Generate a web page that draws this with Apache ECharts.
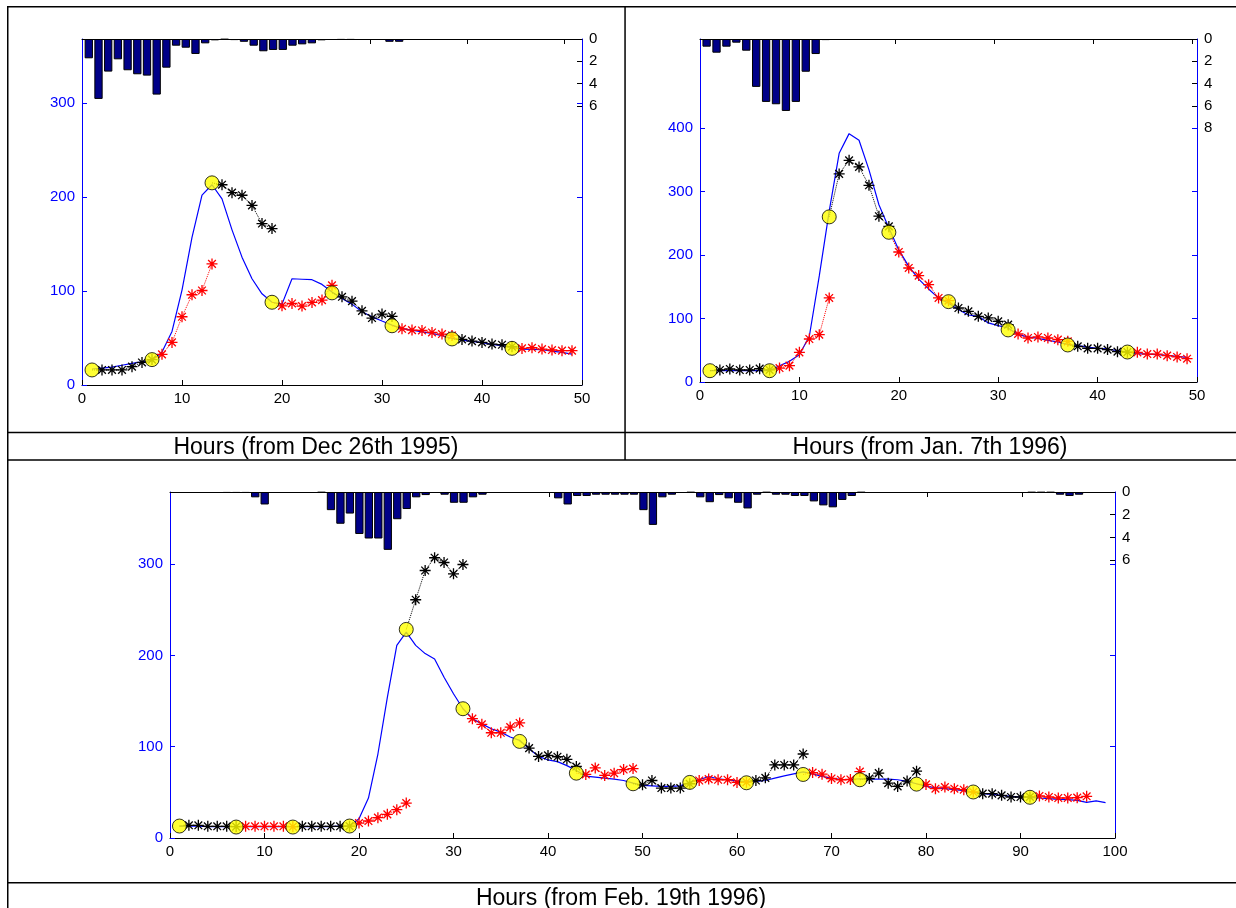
<!DOCTYPE html>
<html>
<head>
<meta charset="utf-8">
<script src="https://cdn.jsdelivr.net/npm/echarts@6/dist/echarts.min.js"></script>
<style>
  html, body { margin: 0; padding: 0; background: #fff; }
  #chart { width: 1236px; height: 908px; }
</style>
</head>
<body>
<div id="chart"></div>
<script>
// observations every 6 hours, each followed by a 6 hour forecast
var dec95ObsHours = [1, 7, 13, 19, 25, 31, 37, 43];
var dec95Obs = [16, 27, 215, 88, 98, 63, 49, 39];
var dec95Model = [17, 18, 19, 21, 23, 24.5, 26, 35, 57, 101, 157, 202, 213, 198, 165, 136, 113, 97, 88, 86,
  113, 112.5, 112, 107, 99, 92, 86, 78, 72.5, 68, 63.7, 60, 58.4, 56.6, 54.9, 52.4, 49.6, 47.8, 46.4, 45,
  43.2, 41.8, 40, 38.2, 37.9, 37.5, 36, 34.7, 32.9];
var dec95Fcst = [
  [16, 16, 16, 19.5, 24, 27],
  [32.6, 45.3, 72.6, 96, 100.5, 128.8],
  [213, 204.6, 201.8, 191, 171.7, 166.4],
  [84.2, 86.7, 83.9, 87.8, 90.3, 106],
  [93.8, 89.2, 78.9, 71.2, 75.4, 72.9],
  [59.8, 58.4, 58, 55.9, 54.2, 52.7],
  [48.5, 46.7, 45.3, 43.5, 42.8, 40.7],
  [38.9, 39.6, 38.2, 37.2, 36.5, 36.5]
];
var dec95Rain = [1.73, 5.37, 2.92, 1.82, 2.8, 3.16, 3.28, 4.98, 2.57, 0.6, 0.78, 1.34, 0.39, 0.12, 0.05, 0.1,
  0.25, 0.6, 1.1, 0.98, 0.98, 0.6, 0.48, 0.39, 0.12, 0, 0.08, 0.08, 0, 0, 0, 0.25, 0.25];

var jan96ObsHours = [1, 7, 13, 19, 25, 31, 37, 43];
var jan96Obs = [17.8, 17.8, 260, 235.7, 126.5, 82, 58.3, 47.2];
var jan96Model = [17.8, 18, 18, 18, 18, 18, 18, 25.7, 32.5, 43, 72, 167, 269, 360, 391, 380.6, 334, 279, 242.5, 208,
  182, 162, 146.5, 132, 124, 114, 105.5, 103.4, 93, 88.7, 85, 74.5, 71, 68.8, 65.6, 63, 59.3, 57.2, 55, 53,
  52, 49.3, 47.2, 44.6, 44, 43, 42, 40.4, 38.8];
var jan96Fcst = [
  [18.9, 20.5, 18.9, 18.9, 21, 19],
  [22, 25.7, 46.7, 67.7, 74.5, 132.3],
  [327.6, 349, 338.6, 309.7, 261, 245],
  [204.7, 179.5, 167.5, 153.3, 132.3, 128],
  [116.5, 111.3, 103.4, 100.8, 95.5, 90.3],
  [75.6, 69.3, 70.9, 69.3, 66.7, 64],
  [56.2, 53, 53, 51, 47.8, 47],
  [46.7, 44, 44, 41.5, 39.4, 36.7]
];
var jan96Rain = [0.69, 1.23, 0.69, 0.33, 1.05, 4.3, 5.65, 5.86, 6.46, 5.65, 2.94, 1.35, 0.1];

var feb96ObsHours = [1, 7, 13, 19, 25, 31, 37, 43, 49, 55, 61, 67, 73, 79, 85, 91];
var feb96Obs = [13.1, 12, 12, 13.1, 228.5, 141.6, 105.8, 71, 59.4, 60.9, 60.5, 69.6, 63.8, 59, 50.4, 44.6];
var feb96Model = [13, 13, 13, 12.5, 12.5, 12.5, 12.5, 12.5, 12.5, 12.5, 12.5, 12.5, 12.5, 12.5, 12.5, 12.5, 12.5, 13, 13, 21,
  43.8, 92, 154, 211, 225.5, 211, 202, 196, 176, 158, 141.6, 130.7, 125, 119.7, 116, 110.6, 107, 97.8, 89.4, 85.5,
  83.7, 79.3, 73.9, 67.8, 66.7, 65.6, 64.5, 63, 60.1, 57.6, 57.2, 56.5, 56.5, 57.2, 61.2, 63.8, 67.4, 64.9, 63.8, 62.3,
  62, 62, 63, 65.6, 68.1, 70.3, 72.5, 70.3, 67.4, 65.6, 64.1, 64.1, 64.9, 64.5, 64.5, 64.5, 63.8, 62, 59.4, 56.5,
  55.1, 54, 52.9, 51.8, 50, 48.6, 47.8, 46.7, 45.7, 44.9, 44.2, 43.8, 43.1, 42.4, 42, 41.3, 39.1, 40.6, 38.8];
var feb96Fcst = [
  [13.9, 13.9, 12.8, 12.8, 12.8, 12.5],
  [12.8, 12.8, 12.8, 12.8, 12.8, 12.5],
  [12.8, 12.8, 12.8, 12.8, 12.8, 13],
  [16.4, 18.6, 22.3, 25.9, 31, 38.3],
  [261, 293, 307, 301.8, 289.4, 299.6],
  [130.7, 124.5, 115.3, 115.3, 121.5, 126],
  [98.5, 89.4, 90.5, 89, 86.2, 78.3],
  [69.6, 76.8, 68.5, 71, 75, 76.1],
  [58.3, 63, 54.7, 54.7, 54.7, 59.4],
  [63, 64.5, 63.8, 63.8, 60.9, 61.2],
  [63, 65.9, 80, 80, 80, 92],
  [71.7, 69.9, 65.2, 63.8, 64.1, 72.8],
  [65.2, 71, 60.1, 56.5, 62.3, 73.2],
  [58.7, 54, 55.8, 54, 52.9, 50.4],
  [48.6, 48.6, 46.7, 44.9, 44.9, 45],
  [46, 44.9, 43.8, 43.8, 44.2, 45.7]
];
var feb96Rain = [0, 0, 0, 0, 0, 0.08, 0.08, 0.08, 0.47, 1.1,
  0, 0, 0, 0, 0, 0.05, 1.6, 2.8, 1.9, 3.7,
  4.1, 4.1, 5.1, 2.4, 1.5, 0.47, 0.27, 0, 0.24, 0.95,
  0.95, 0.47, 0.24, 0, 0, 0, 0, 0, 0, 0,
  0.56, 1.1, 0.35, 0.35, 0.24, 0.24, 0.24, 0.24, 0.24, 1.6,
  2.9, 0.47, 0.24, 0, 0.05, 0.47, 0.9, 0.27, 0.56, 0.95,
  1.45, 0.24, 0.05, 0.24, 0.24, 0.35, 0.35, 0.83, 1.18, 1.35,
  0.7, 0.35, 0.05, 0, 0, 0, 0, 0, 0, 0,
  0, 0, 0, 0, 0, 0, 0, 0, 0, 0,
  0.05, 0.05, 0.05, 0.24, 0.35, 0.24, 0, 0, 0];

var titles = ['Hours (from Dec 26th 1995)', 'Hours (from Jan. 7th 1996)', 'Hours (from Feb. 19th 1996)'];

var FONT = '"Liberation Sans", Arial, sans-serif';
var BLUE = '#0000ff';
var STAR = 'path://M0,10L20,10M10,0L10,20M3,3L17,17M17,3L3,17';

var panels = [
  { grid: { left: 82, top: 39, width: 500, height: 346 }, xMax: 50, yMax: 368, yTicks: [0, 100, 200, 300],
    rMax: 31, rTicks: [0, 2, 4, 6], barMin: 0.299, barMax: 51.85,
    obsHours: dec95ObsHours, obs: dec95Obs, model: dec95Model, fcst: dec95Fcst, rain: dec95Rain },
  { grid: { left: 700, top: 39, width: 497, height: 343 }, xMax: 50, yMax: 540, yTicks: [0, 100, 200, 300, 400],
    rMax: 30.8, rTicks: [0, 2, 4, 6, 8], barMin: 0.334, barMax: 50.46,
    obsHours: jan96ObsHours, obs: jan96Obs, model: jan96Model, fcst: jan96Fcst, rain: jan96Rain },
  { grid: { left: 170, top: 492, width: 945, height: 346 }, xMax: 100, yMax: 379, yTicks: [0, 100, 200, 300],
    rMax: 30.5, rTicks: [0, 2, 4, 6], barMin: 0, barMax: 99.8,
    obsHours: feb96ObsHours, obs: feb96Obs, model: feb96Model, fcst: feb96Fcst, rain: feb96Rain }
];

var grids = [], xAxes = [], yAxes = [], series = [];

panels.forEach(function (p, i) {
  grids.push(p.grid);
  var xb = xAxes.length, yl = yAxes.length;
  var hourTicks = [];
  for (var t = 10; t <= p.xMax; t += 10) hourTicks.push(t);

  // bottom hours axis
  xAxes.push({
    type: 'value', gridIndex: i, position: 'bottom', min: 0, max: p.xMax, interval: 10,
    axisLine: { onZero: false, lineStyle: { color: '#000', width: 1 } },
    axisTick: { inside: true, length: 5, lineStyle: { color: '#000' } },
    axisLabel: { color: '#000', fontFamily: FONT, fontSize: 15, margin: 6 },
    splitLine: { show: false }
  });
  // top axis of the rain bars
  xAxes.push({
    type: 'value', gridIndex: i, position: 'top', min: p.barMin, max: p.barMax,
    axisLine: { onZero: false, lineStyle: { color: '#000', width: 1 } },
    axisTick: { inside: true, length: 5, lineStyle: { color: '#000' }, customValues: hourTicks },
    axisLabel: { show: false },
    splitLine: { show: false }
  });
  // left flow axis
  yAxes.push({
    type: 'value', gridIndex: i, position: 'left', min: 0, max: p.yMax,
    axisLine: { show: true, onZero: false, lineStyle: { color: BLUE, width: 1 } },
    axisTick: { show: true, inside: true, length: 5, lineStyle: { color: BLUE }, customValues: p.yTicks },
    axisLabel: { color: BLUE, fontFamily: FONT, fontSize: 15, margin: 7, customValues: p.yTicks },
    splitLine: { show: false }
  });
  // right rain axis, hanging from the top
  yAxes.push({
    type: 'value', gridIndex: i, position: 'right', inverse: true, min: 0, max: p.rMax,
    axisLine: { show: true, onZero: false, lineStyle: { color: BLUE, width: 1 } },
    axisTick: { show: true, inside: true, length: 5, lineStyle: { color: '#000' }, customValues: p.rTicks },
    axisLabel: { color: '#000', fontFamily: FONT, fontSize: 15, margin: 7, customValues: p.rTicks },
    splitLine: { show: false }
  });
  // mirrored flow ticks on the right edge
  yAxes.push({
    type: 'value', gridIndex: i, position: 'right', min: 0, max: p.yMax,
    axisLine: { show: false, onZero: false },
    axisTick: { show: true, inside: true, length: 5, lineStyle: { color: BLUE },
      customValues: p.yTicks.filter(function (v) { return v > 0; }) },
    axisLabel: { show: false },
    splitLine: { show: false }
  });

  var rainData = [];
  p.rain.forEach(function (v, k) { if (v > 0) rainData.push([k + 1, v]); });
  series.push({
    type: 'bar', xAxisIndex: xb + 1, yAxisIndex: yl + 1, data: rainData, barWidth: 8.3, z: 1,
    itemStyle: { color: '#000088', borderColor: '#000', borderWidth: 1 }
  });

  series.push({
    type: 'line', xAxisIndex: xb, yAxisIndex: yl, z: 2, symbol: 'none',
    data: p.model.map(function (v, k) { return [k + 1, v]; }),
    lineStyle: { color: BLUE, width: 1.2 }
  });

  p.fcst.forEach(function (f, s) {
    var h = p.obsHours[s];
    var col = s % 2 === 0 ? '#000' : '#ff0000';
    var d = [{ value: [h, p.obs[s]], symbol: 'none' }];
    f.forEach(function (v, j) { d.push([h + j + 1, v]); });
    series.push({
      type: 'line', xAxisIndex: xb, yAxisIndex: yl, z: 3, data: d,
      symbol: STAR, symbolSize: 11, showSymbol: true,
      itemStyle: { color: col, borderColor: col, borderWidth: 1.3 },
      lineStyle: { color: col, width: 1, type: 'dotted' }
    });
  });

  series.push({
    type: 'scatter', xAxisIndex: xb, yAxisIndex: yl, z: 4, symbol: 'circle', symbolSize: 14,
    data: p.obs.map(function (v, k) { return [p.obsHours[k], v]; }),
    itemStyle: { color: '#ffff00', borderColor: '#000', borderWidth: 1 }
  });
});

function rule(x, y, w, h) {
  return { type: 'rect', shape: { x: x, y: y, width: w, height: h }, style: { fill: '#000' }, silent: true };
}
function caption(txt, x, y) {
  return { type: 'text', x: x, y: y, silent: true,
    style: { text: txt, fill: '#000', font: '23px ' + FONT, textAlign: 'center', textVerticalAlign: 'middle' } };
}

var chart = echarts.init(document.getElementById('chart'));
chart.setOption({
  animation: false,
  backgroundColor: '#fff',
  grid: grids,
  xAxis: xAxes,
  yAxis: yAxes,
  series: series,
  graphic: [
    rule(7, 6, 1229, 1.5),
    rule(7, 6, 1.5, 902),
    rule(624.3, 6, 1.5, 454),
    rule(7, 431.7, 1229, 1.5),
    rule(7, 459.3, 1229, 1.5),
    rule(7, 882, 1229, 1.5),
    caption(titles[0], 316, 447.5),
    caption(titles[1], 930, 447.5),
    caption(titles[2], 621, 899)
  ]
});
</script>
</body>
</html>
